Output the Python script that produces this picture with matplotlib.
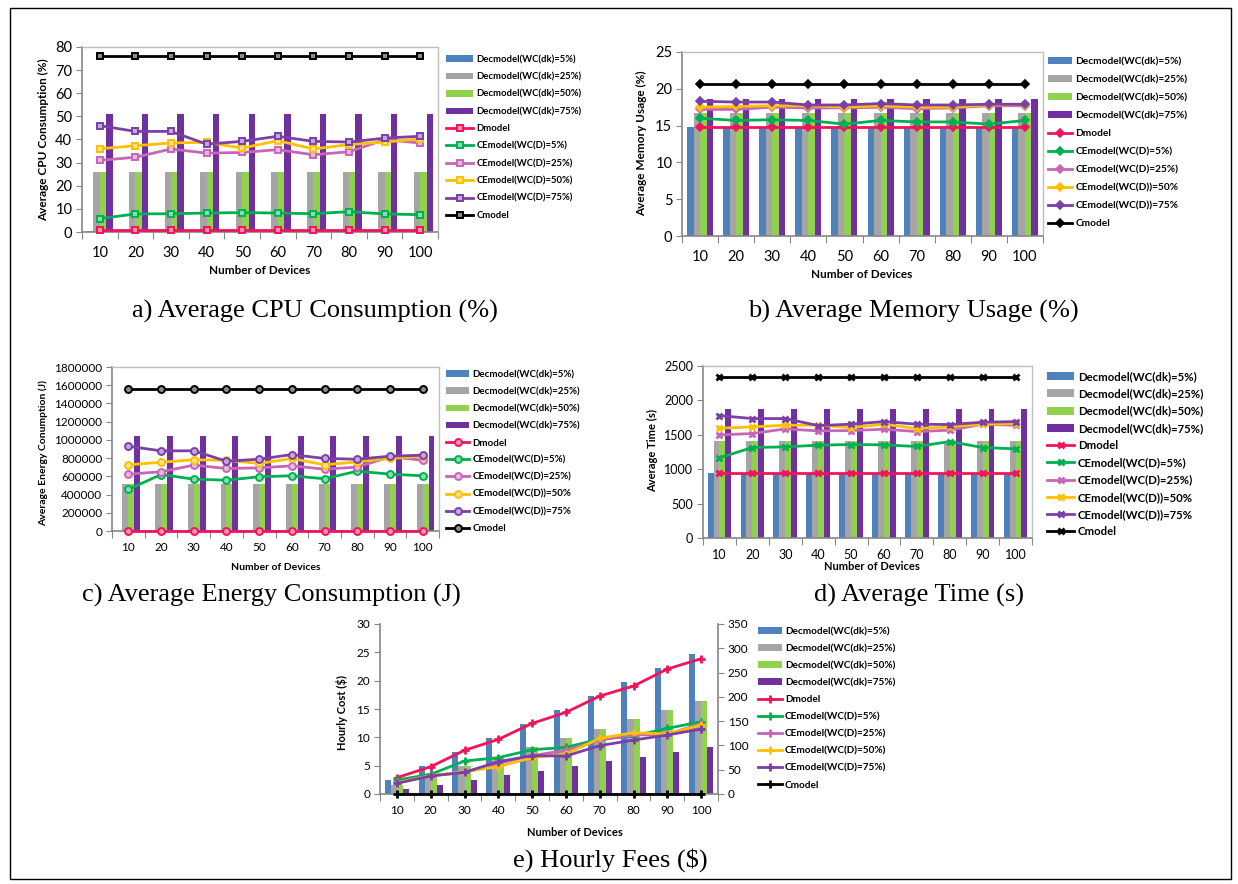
import numpy as np
import matplotlib
matplotlib.use('Agg')
import matplotlib.pyplot as plt
from matplotlib.patches import Rectangle
from matplotlib.colors import to_rgb

plt.rcParams['font.family'] = ['Lato', 'DejaVu Sans']

W, H = 1238, 884

devices = [10, 20, 30, 40, 50, 60, 70, 80, 90, 100]

bar_labels = ['Decmodel(WC(dk)=5%)', 'Decmodel(WC(dk)=25%)',
              'Decmodel(WC(dk)=50%)', 'Decmodel(WC(dk)=75%)']
line_labels_a = ['Dmodel', 'CEmodel(WC(D)=5%)', 'CEmodel(WC(D)=25%)',
                 'CEmodel(WC(D)=50%)', 'CEmodel(WC(D)=75%)', 'Cmodel']
line_labels_b = ['Dmodel', 'CEmodel(WC(D)=5%)', 'CEmodel(WC(D)=25%)',
                 'CEmodel(WC(D))=50%', 'CEmodel(WC(D))=75%', 'Cmodel']

# ---- a) CPU (%)
cpu_bars = [
    [0.6, 0, 0, 0, 0, 0, 0, 0, 0, 0],
    [26, 26, 26, 26, 26, 26, 26, 26, 26, 26],
    [26, 26, 26, 26, 26, 26, 26, 26, 26, 26],
    [51, 51, 51, 51, 51, 51, 51, 51, 51, 51],
]
cpu_d = [1, 1, 1, 1, 1, 1, 1, 1, 1, 1]
cpu_ce5 = [5.8, 7.8, 7.9, 8.2, 8.4, 8.2, 7.9, 8.8, 7.8, 7.5]
cpu_ce25 = [31.0, 32.3, 35.9, 34.1, 34.4, 35.6, 33.4, 34.7, 39.9, 38.5]
cpu_ce50 = [36.0, 37.3, 38.5, 38.8, 36.3, 39.5, 35.9, 37.8, 38.9, 40.2]
cpu_ce75 = [46.0, 43.5, 43.5, 38.0, 39.2, 41.4, 39.2, 38.9, 40.6, 41.4]
cpu_c = [76, 76, 76, 76, 76, 76, 76, 76, 76, 76]

# ---- b) Memory (%)
mem_bars = [
    [14.8] * 10,
    [16.7] * 10,
    [16.7] * 10,
    [18.6] * 10,
]
mem_d = [14.8] * 10
mem_ce5 = [16.0, 15.7, 15.8, 15.7, 15.2, 15.7, 15.5, 15.5, 15.2, 15.7]
mem_ce25 = [17.2, 17.2, 17.5, 17.4, 17.4, 17.5, 17.3, 17.4, 17.7, 17.7]
mem_ce50 = [17.5, 17.6, 17.7, 17.7, 17.5, 17.7, 17.5, 17.5, 17.8, 17.85]
mem_ce75 = [18.3, 18.2, 18.2, 17.8, 17.8, 18.0, 17.8, 17.8, 17.9, 17.9]
mem_c = [20.7] * 10

# ---- c) Energy (J)
en_bars = [
    [0] * 10,
    [520000] * 10,
    [520000] * 10,
    [1040000] * 10,
]
en_d = [5000] * 10
en_ce5 = [456000, 620000, 569000, 558000, 595000, 606000, 573000, 657000, 624000, 606000]
en_ce25 = [624000, 650000, 723000, 686000, 693000, 715000, 679000, 701000, 814000, 777000]
en_ce50 = [726000, 755000, 781000, 777000, 741000, 796000, 726000, 759000, 796000, 821000]
en_ce75 = [930000, 880000, 880000, 766000, 788000, 839000, 796000, 788000, 821000, 832000]
en_c = [1555000] * 10

# ---- d) Time (s)
t_bars = [
    [938] * 10,
    [1405] * 10,
    [1405] * 10,
    [1874] * 10,
]
t_d = [938] * 10
t_ce5 = [1165, 1315, 1325, 1349, 1359, 1354, 1330, 1402, 1315, 1296]
t_ce25 = [1499, 1518, 1586, 1557, 1562, 1581, 1547, 1567, 1654, 1639]
t_ce50 = [1596, 1615, 1639, 1639, 1605, 1654, 1591, 1615, 1654, 1663]
t_ce75 = [1779, 1736, 1736, 1634, 1654, 1692, 1654, 1649, 1683, 1692]
t_c = [2345] * 10

# ---- e) Hourly cost ($): bars on left axis, lines on right axis
h_bars = [
    [2.47, 4.94, 7.41, 9.88, 12.35, 14.82, 17.29, 19.76, 22.23, 24.70],
    [1.65, 3.29, 4.94, 6.59, 8.23, 9.88, 11.53, 13.17, 14.82, 16.47],
    [1.65, 3.29, 4.94, 6.59, 8.23, 9.88, 11.53, 13.17, 14.82, 16.47],
    [0.82, 1.65, 2.47, 3.29, 4.12, 4.94, 5.76, 6.59, 7.41, 8.23],
]
h_d = [33.6, 56.3, 89.9, 112.5, 145.4, 168.0, 201.7, 222.3, 257.3, 278.6]
h_ce5 = [28.8, 40.5, 67.9, 74.8, 91.2, 96.0, 113.2, 119.4, 135.1, 148.9]
h_ce25 = [23.3, 37.7, 44.6, 63.0, 78.9, 90.0, 111.0, 121.4, 122.8, 145.0]
h_ce50 = [23.3, 37.7, 46.0, 56.3, 74.8, 82.3, 114.6, 126.2, 123.5, 142.0]
h_ce75 = [22.0, 37.0, 44.6, 66.5, 78.9, 78.2, 99.5, 111.1, 121.4, 133.8]
h_c = [0] * 10

BAR_COLORS = ['#4F81BD', '#A5A5A5', '#92D050', '#7030A0']
LINE_COLORS = ['#F0145A', '#00B050', '#C765B9', '#FFC000', '#7B3FA8', '#000000']

fig = plt.figure(figsize=(W / 100, H / 100), dpi=100)


def px_ax(l, t, r, b):
    return fig.add_axes([l / W, 1 - b / H, (r - l) / W, (b - t) / H])


def tint(c, f=0.55):
    r, g, b = to_rgb(c)
    return (r + (1 - r) * f, g + (1 - g) * f, b + (1 - b) * f)


def style_axis(ax, fs, xpad):
    for s in ['left', 'bottom']:
        ax.spines[s].set_color('#868686')
        ax.spines[s].set_linewidth(1.2)
    for s in ['top', 'right']:
        ax.spines[s].set_color('#BFBFBF')
        ax.spines[s].set_linewidth(1.0)
    ax.set_xlim(-0.5, 9.5)
    ax.set_xticks(np.arange(-0.5, 10, 1))
    ax.set_xticklabels([])
    ax.set_xticks(np.arange(10), minor=True)
    ax.set_xticklabels([str(d) for d in devices], minor=True, fontsize=fs)
    ax.tick_params(axis='x', which='major', direction='out', length=5,
                   color='#868686')
    ax.tick_params(axis='x', which='minor', length=0, pad=xpad)
    ax.tick_params(axis='y', direction='out', length=4, color='#868686',
                   labelsize=fs, pad=3)


def draw_panel(rect, bars, lines, line_labels, ylim, ystep, marker, ms,
               mfc_mode, fs, ylabel, xl_pos, yl_pos, lab_fs, leg_pos,
               leg_fs, leg_sp, caption, cap_pos, yfmt=None, twin=None,
               xpad=8, hl=2.4):
    ax = px_ax(*rect)
    x = np.arange(10)
    w = 0.18
    handles = []
    for i, vals in enumerate(bars):
        h = ax.bar(x + (i - 1.5) * w, vals, width=w, color=BAR_COLORS[i],
                   linewidth=0, label=bar_labels[i], zorder=2)
        handles.append(h)
    lax = ax
    if twin is not None:
        lax = ax.twinx()
        lax.set_ylim(*twin[0])
        lax.set_yticks(np.arange(twin[0][0], twin[0][1] + 1, twin[1]))
        lax.tick_params(axis='y', direction='out', length=4,
                        color='#868686', labelsize=fs, pad=3)
        for s in lax.spines.values():
            s.set_visible(False)
        lax.spines['right'].set_visible(True)
        lax.spines['right'].set_color('#868686')
        lax.spines['right'].set_linewidth(1.2)
    for j, vals in enumerate(lines):
        c = LINE_COLORS[j]
        if mfc_mode == 'tint':
            mfc = tint(c)
        else:
            mfc = c
        mew = 1.4 if marker in ('s', 'o') else 1.2
        if marker in ('x', '+'):
            mew = 2.0
        (ln,) = lax.plot(x, vals, color=c, lw=2.0, marker=marker,
                         markersize=ms, markerfacecolor=mfc,
                         markeredgecolor=c, markeredgewidth=mew,
                         label=line_labels[j], zorder=3, clip_on=False)
        handles.append(ln)
    ax.set_ylim(*ylim)
    ax.set_yticks(np.arange(ylim[0], ylim[1] + ystep / 2, ystep))
    style_axis(ax, fs, xpad)
    if twin is not None:
        ax.spines['right'].set_visible(False)
        ax.spines['top'].set_visible(False)
    if yfmt is not None:
        ax.set_yticklabels([yfmt(v) for v in ax.get_yticks()])
    fig.text(xl_pos[0] / W, 1 - xl_pos[1] / H, 'Number of Devices',
             ha='center', va='center', fontsize=lab_fs, fontweight='bold')
    fig.text(yl_pos[0] / W, 1 - yl_pos[1] / H, ylabel, ha='center',
             va='center', rotation=90, fontsize=lab_fs, fontweight='bold')
    fig.legend(handles=handles, loc='upper left',
               bbox_to_anchor=(leg_pos[0] / W, 1 - leg_pos[1] / H),
               bbox_transform=fig.transFigure, frameon=False,
               prop={'size': leg_fs, 'weight': 'bold'},
               labelspacing=leg_sp, handlelength=hl, handletextpad=0.3,
               borderaxespad=0, borderpad=0, numpoints=1)
    fig.text(cap_pos[0] / W, 1 - cap_pos[1] / H, caption, ha='center',
             va='center', fontsize=19, family='Liberation Serif')
    return ax


# a)
draw_panel((82, 47, 438, 232), cpu_bars,
           [cpu_d, cpu_ce5, cpu_ce25, cpu_ce50, cpu_ce75, cpu_c],
           line_labels_a, (0, 80), 10, 's', 5, 'tint', 10.5,
           'Average CPU Consumption (%)', (260, 271), (44, 140), 8.5,
           (446, 55), 6.8, 0.88, 'a) Average CPU Consumption (%)', (315, 311),
           xpad=10, hl=2.9)

# b)
draw_panel((682, 52, 1043, 236), mem_bars,
           [mem_d, mem_ce5, mem_ce25, mem_ce50, mem_ce75, mem_c],
           line_labels_b, (0, 25), 5, 'D', 4.5, 'fill', 10.5,
           'Average Memory Usage (%)', (862, 275), (642, 143), 8.5,
           (1048, 57), 7.3, 0.88, 'b) Average Memory Usage (%)', (913, 311),
           xpad=10)

# c)
draw_panel((112, 367, 439, 531), en_bars,
           [en_d, en_ce5, en_ce25, en_ce50, en_ce75, en_c],
           line_labels_b, (0, 1800000), 200000, 'o', 5, 'tint', 8.5,
           'Average Energy Conumption (J)', (276, 567), (43, 453), 7.5,
           (446, 370), 7.0, 0.83, 'c) Average Energy Consumption (J)', (271, 595),
           yfmt=lambda v: str(int(v)))

# d)
draw_panel((703, 366, 1032, 538), t_bars,
           [t_d, t_ce5, t_ce25, t_ce50, t_ce75, t_c],
           line_labels_b, (0, 2500), 500, 'x', 5, 'fill', 9,
           'Average Time (s)', (872, 566), (653, 450), 8,
           (1047, 371), 8.2, 0.55, 'd) Average Time (s)', (919, 595),
           yfmt=lambda v: str(int(v)))

# e)
draw_panel((380, 624, 718, 794), h_bars,
           [h_d, h_ce5, h_ce25, h_ce50, h_ce75, h_c],
           line_labels_a, (0, 30), 5, '+', 6, 'fill', 8.5,
           'Hourly Cost ($)', (575, 833), (342, 712), 8,
           (758, 627), 7.2, 0.8, 'e) Hourly Fees ($)', (610, 860),
           yfmt=lambda v: str(int(v)), twin=((0, 350), 50))

# outer frame
fig.add_artist(Rectangle((10 / W, 1 - 879 / H), 1221 / W, 871 / H,
                         transform=fig.transFigure, fill=False,
                         edgecolor='black', linewidth=1.0))

fig.savefig('out.png', dpi=100)
